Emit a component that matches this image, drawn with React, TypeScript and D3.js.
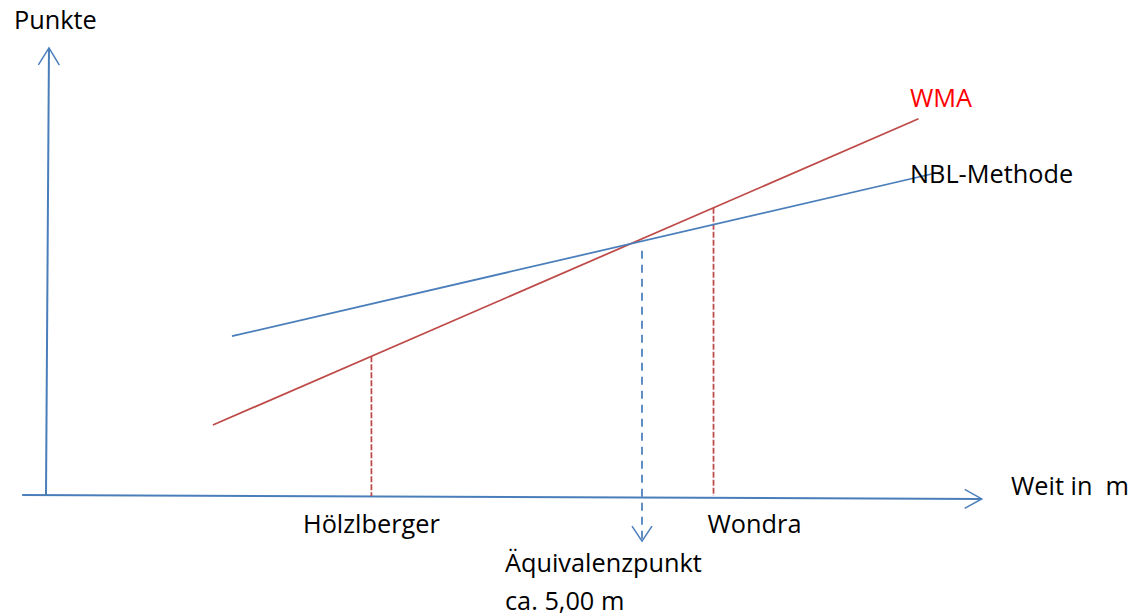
import React, { useRef, useEffect } from 'react';
import * as d3 from 'd3';

// Schema: Weite (m) gegen Punkte, zwei Methoden
const methoden = ['WMA', 'NBL-Methode'];
const methodenFarben = ['#BE4B48', '#4A7EBB'];
const methodenWeite = [
  [1.4, 7.32],
  [1.56, 7.43],
];
const methodenPunkte = [
  [15.9, 85.5],
  [36.1, 72.95],
];

const springer = ['Hölzlberger', 'Wondra'];
const springerWeite = [2.73, 5.6];

const aequivalenzWeite = 5.0;
const aequivalenzPunkte = [55.5, -10.5];
const aequivalenzText = ['Äquivalenzpunkt', 'ca. 5,00 m'];

const achseXWeite = [-0.2, 7.85];
const achseXPunkte = [0, -0.9];
const achseYWeite = [0, 0.025];
const achseYPunkte = [0, 101.6];

const achsenTitel = ['Weit in  m', 'Punkte'];

const FONT = '"Open Sans", Lato, sans-serif';
const BLAU = '#4A7EBB';

type Sel = d3.Selection<SVGGElement, unknown, null, undefined>;

const pfeilKopf = (g: Sel, x1: number, y1: number, x2: number, y2: number, laenge: number, breite: number, farbe: string) => {
  const winkel = Math.atan2(y2 - y1, x2 - x1);
  const bx = x2 - laenge * Math.cos(winkel);
  const by = y2 - laenge * Math.sin(winkel);
  const nx = -Math.sin(winkel) * breite;
  const ny = Math.cos(winkel) * breite;
  const p = d3.path();
  p.moveTo(bx + nx, by + ny);
  p.lineTo(x2, y2);
  p.lineTo(bx - nx, by - ny);
  g.append('path')
    .attr('d', p.toString())
    .attr('fill', 'none')
    .attr('stroke', farbe)
    .attr('stroke-width', 1.5);
};

const App: React.FC = () => {
  const svgRef = useRef<SVGSVGElement | null>(null);

  useEffect(() => {
    if (!svgRef.current) return;
    const width = 1135;
    const height = 616;

    const svg = d3.select<SVGSVGElement, unknown>(svgRef.current)
      .attr('width', width)
      .attr('height', height)
      .style('background', '#fff');
    svg.selectAll('*').remove();
    const g = svg.append('g') as Sel;

    const x = d3.scaleLinear().domain([0, 5]).range([46, 642]);
    const y = d3.scaleLinear().domain([0, 100]).range([495, 55]);
    const linie = d3.line<[number, number]>().x((d) => x(d[0])).y((d) => y(d[1]));

    // Achsen
    const xa = achseXWeite.map((w, i) => [w, achseXPunkte[i]] as [number, number]);
    g.append('path').attr('d', linie(xa)).attr('stroke', BLAU).attr('stroke-width', 2).attr('fill', 'none');
    pfeilKopf(g, x(xa[0][0]), y(xa[0][1]), x(xa[1][0]), y(xa[1][1]), 17, 9.5, BLAU);

    const ya = achseYWeite.map((w, i) => [w, achseYPunkte[i]] as [number, number]);
    g.append('path').attr('d', linie(ya)).attr('stroke', BLAU).attr('stroke-width', 2).attr('fill', 'none');
    pfeilKopf(g, x(ya[0][0]), y(ya[0][1]), x(ya[1][0]), y(ya[1][1]), 17, 10.5, BLAU);

    // Gestrichelte Linien der Springer (bis zur WMA-Geraden)
    const wma = methodenWeite[0].map((w, i) => [w, methodenPunkte[0][i]] as [number, number]);
    const wmaBei = (w: number) => {
      const t = (w - wma[0][0]) / (wma[1][0] - wma[0][0]);
      return wma[0][1] + t * (wma[1][1] - wma[0][1]);
    };
    springer.forEach((name, i) => {
      const w = springerWeite[i];
      g.append('line')
        .attr('x1', x(w)).attr('x2', x(w))
        .attr('y1', y(wmaBei(w))).attr('y2', y(0) + 1)
        .attr('stroke', methodenFarben[0])
        .attr('stroke-width', 1.75)
        .attr('stroke-dasharray', '6,2');
    });

    // Äquivalenzpunkt
    g.append('line')
      .attr('x1', x(aequivalenzWeite)).attr('x2', x(aequivalenzWeite))
      .attr('y1', y(aequivalenzPunkte[0])).attr('y2', y(aequivalenzPunkte[1]))
      .attr('stroke', BLAU)
      .attr('stroke-width', 1.75)
      .attr('stroke-dasharray', '8,6');
    pfeilKopf(g, x(aequivalenzWeite), y(aequivalenzPunkte[0]), x(aequivalenzWeite), y(aequivalenzPunkte[1]), 15, 10, BLAU);

    // Geraden
    methoden.forEach((m, i) => {
      const pts = methodenWeite[i].map((w, j) => [w, methodenPunkte[i][j]] as [number, number]);
      g.append('path')
        .attr('d', linie(pts))
        .attr('fill', 'none')
        .attr('stroke', methodenFarben[i])
        .attr('stroke-width', 1.75);
    });

    // Beschriftungen
    const text = (t: string, tx: number, ty: number, anker: string, farbe = '#000') =>
      g.append('text')
        .attr('x', tx).attr('y', ty)
        .attr('text-anchor', anker)
        .style('white-space', 'pre')
        .style('font-family', FONT)
        .style('font-size', '25.3px')
        .style('fill', farbe)
        .text(t);

    text(methoden[0], 910, 107, 'start', '#FF0000');
    text(methoden[1], 910, 183, 'start');
    text(achsenTitel[0], 1011, 495, 'start');
    text(achsenTitel[1], 14, 29, 'start');
    text(springer[0], x(springerWeite[0]), 533, 'middle');
    text(springer[1], x(springerWeite[1]) - 6, 533, 'start');
    text(aequivalenzText[0], x(aequivalenzWeite) - 137, 572, 'start');
    text(aequivalenzText[1], x(aequivalenzWeite) - 137, 610, 'start');
  }, []);

  return <svg ref={svgRef} style={{ position: 'absolute', left: 0, top: 0 }}></svg>;
};

export default App;
